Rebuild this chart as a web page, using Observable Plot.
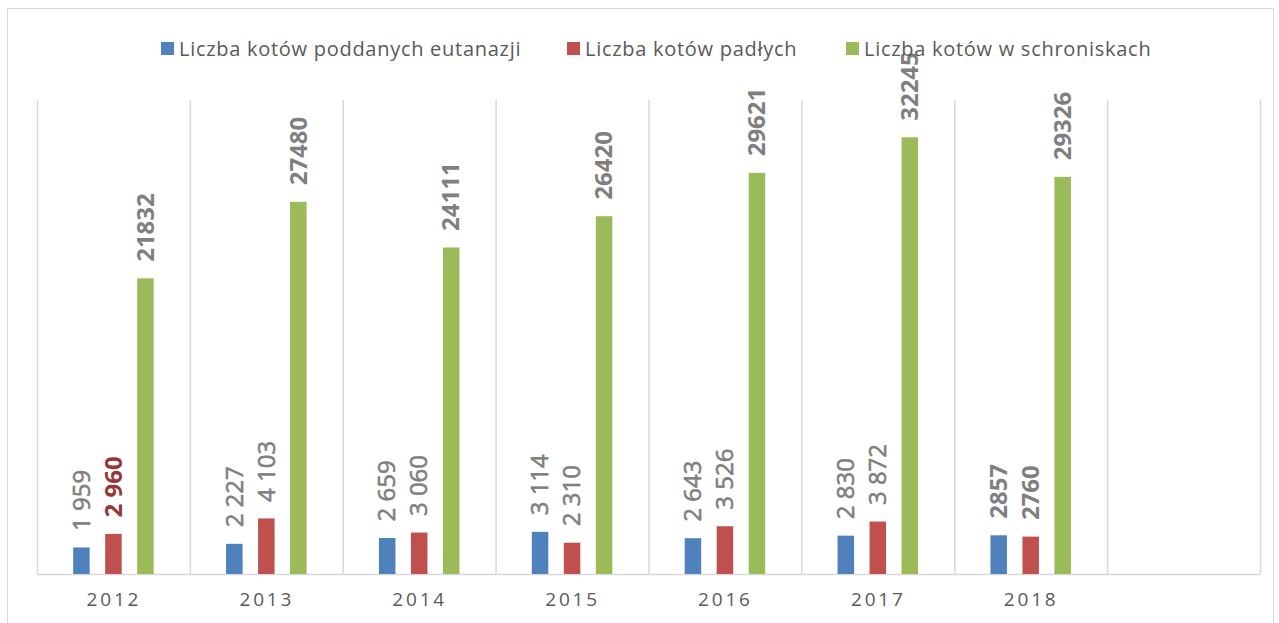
<!DOCTYPE html>
<html>
<head>
<meta charset="utf-8">
<script src="https://cdn.jsdelivr.net/npm/d3@7"></script>
<script src="https://cdn.jsdelivr.net/npm/@observablehq/plot@0.6"></script>
<style>
  html, body { margin: 0; padding: 0; background: #fff; }
  body { width: 1279px; height: 623px; position: relative; overflow: hidden; font-family: "Open Sans", sans-serif; }
  #frame { position: absolute; left: 7px; top: 8px; width: 1267px; height: 700px; border: 1.5px solid #d9d9d9; box-sizing: border-box; pointer-events: none; }
  #legend { position: relative; height: 90px; }
  .item { position: absolute; top: 34px; height: 28px; display: flex; align-items: center; font-size: 20px; letter-spacing: 0.72px; color: #595959; white-space: nowrap; }
  .sw { width: 13px; height: 13px; margin-right: 5px; }
  #chart svg { overflow: visible; background: transparent; }
  #chart svg [aria-label="x-axis tick label"] text { letter-spacing: 2.8px; }
</style>
</head>
<body>
<div id="frame"></div>
<div id="legend"></div>
<div id="chart"></div>
<script>
const years = ["2012", "2013", "2014", "2015", "2016", "2017", "2018"];
const slots = [...years, ""];
const seriesNames = ["Liczba kotów poddanych eutanazji", "Liczba kotów padłych", "Liczba kotów w schroniskach"];
const seriesColors = ["#4f81bd", "#c0504d", "#9bbb59"];
const euthanized = [1959, 2227, 2659, 3114, 2643, 2830, 2857];
const dead = [2960, 4103, 3060, 2310, 3526, 3872, 2760];
const shelter = [21832, 27480, 24111, 26420, 29621, 32245, 29326];
const euthanizedLabels = ["1 959", "2 227", "2 659", "3 114", "2 643", "2 830", "2857"];
const deadLabels = ["2 960", "4 103", "3 060", "2 310", "3 526", "3 872", "2760"];
const shelterLabels = ["21832", "27480", "24111", "26420", "29621", "32245", "29326"];

// legend
const legendLeft = [161, 567, 846];
const legend = document.getElementById("legend");
seriesNames.forEach((name, i) => {
  const it = document.createElement("div");
  it.className = "item";
  it.style.left = legendLeft[i] + "px";
  it.innerHTML = `<span class="sw" style="background:${seriesColors[i]}"></span><span>${name}</span>`;
  legend.appendChild(it);
});

const allSeries = [
  {values: euthanized, labels: euthanizedLabels, color: seriesColors[0]},
  {values: dead, labels: deadLabels, color: seriesColors[1]},
  {values: shelter, labels: shelterLabels, color: seriesColors[2]}
];
const step = 32;
const barW = 16.5;
const slotW = (1260 - 37) / slots.length;
const inset = (slotW - barW) / 2;

const marks = [];
// vertical gridlines at band boundaries
marks.push(Plot.ruleX(slots, {x: d => d, dx: -slotW / 2, stroke: "#d9d9d9", strokeWidth: 1.5}));
marks.push(Plot.ruleX([slots[slots.length - 1]], {x: d => d, dx: slotW / 2, stroke: "#d9d9d9", strokeWidth: 1.5}));
// baseline
marks.push(Plot.ruleY([0], {stroke: "#d9d9d9", strokeWidth: 1.5}));

allSeries.forEach((s, si) => {
  const data = years.map((y, i) => ({year: y, value: s.values[i], label: s.labels[i], i}));
  const off = (si - 1) * step;
  marks.push(Plot.barY(data, {x: "year", y: "value", fill: s.color, insetLeft: inset, insetRight: inset, dx: off}));
  const isBold = d => !d.label.includes(" ");
  const isRed = d => si === 1 && d.i === 0;
  const common = {x: "year", y: "value", text: "label", rotate: -90, textAnchor: "start", lineAnchor: "middle", dx: off, dy: -17, fontSize: 24, letterSpacing: "-1.5px"};
  marks.push(Plot.text(data.filter(d => !isBold(d) && !isRed(d)), {...common, fill: "#7f7f7f", stroke: "#7f7f7f", strokeWidth: 0.6, fontWeight: "normal"}));
  marks.push(Plot.text(data.filter(d => isBold(d) && !isRed(d)), {...common, fill: "#7f7f7f", fontWeight: "bold"}));
  marks.push(Plot.text(data.filter(d => isRed(d)), {...common, fill: "#953735", fontWeight: "bold"}));
});

marks.push(Plot.axisX({tickSize: 0, tickPadding: 18, fontSize: 19, fill: "#595959", tickFormat: d => d, ticks: years, label: null}));

const chart = Plot.plot({
  width: 1279,
  height: 533,
  marginTop: 10,
  marginBottom: 49,
  marginLeft: 37,
  marginRight: 19,
  style: {fontFamily: "Open Sans, sans-serif", overflow: "visible", background: "transparent"},
  x: {domain: slots, padding: 0, round: false, axis: null},
  y: {domain: [0, 35000], axis: null},
  marks
});
document.getElementById("chart").appendChild(chart);
</script>
</body>
</html>
